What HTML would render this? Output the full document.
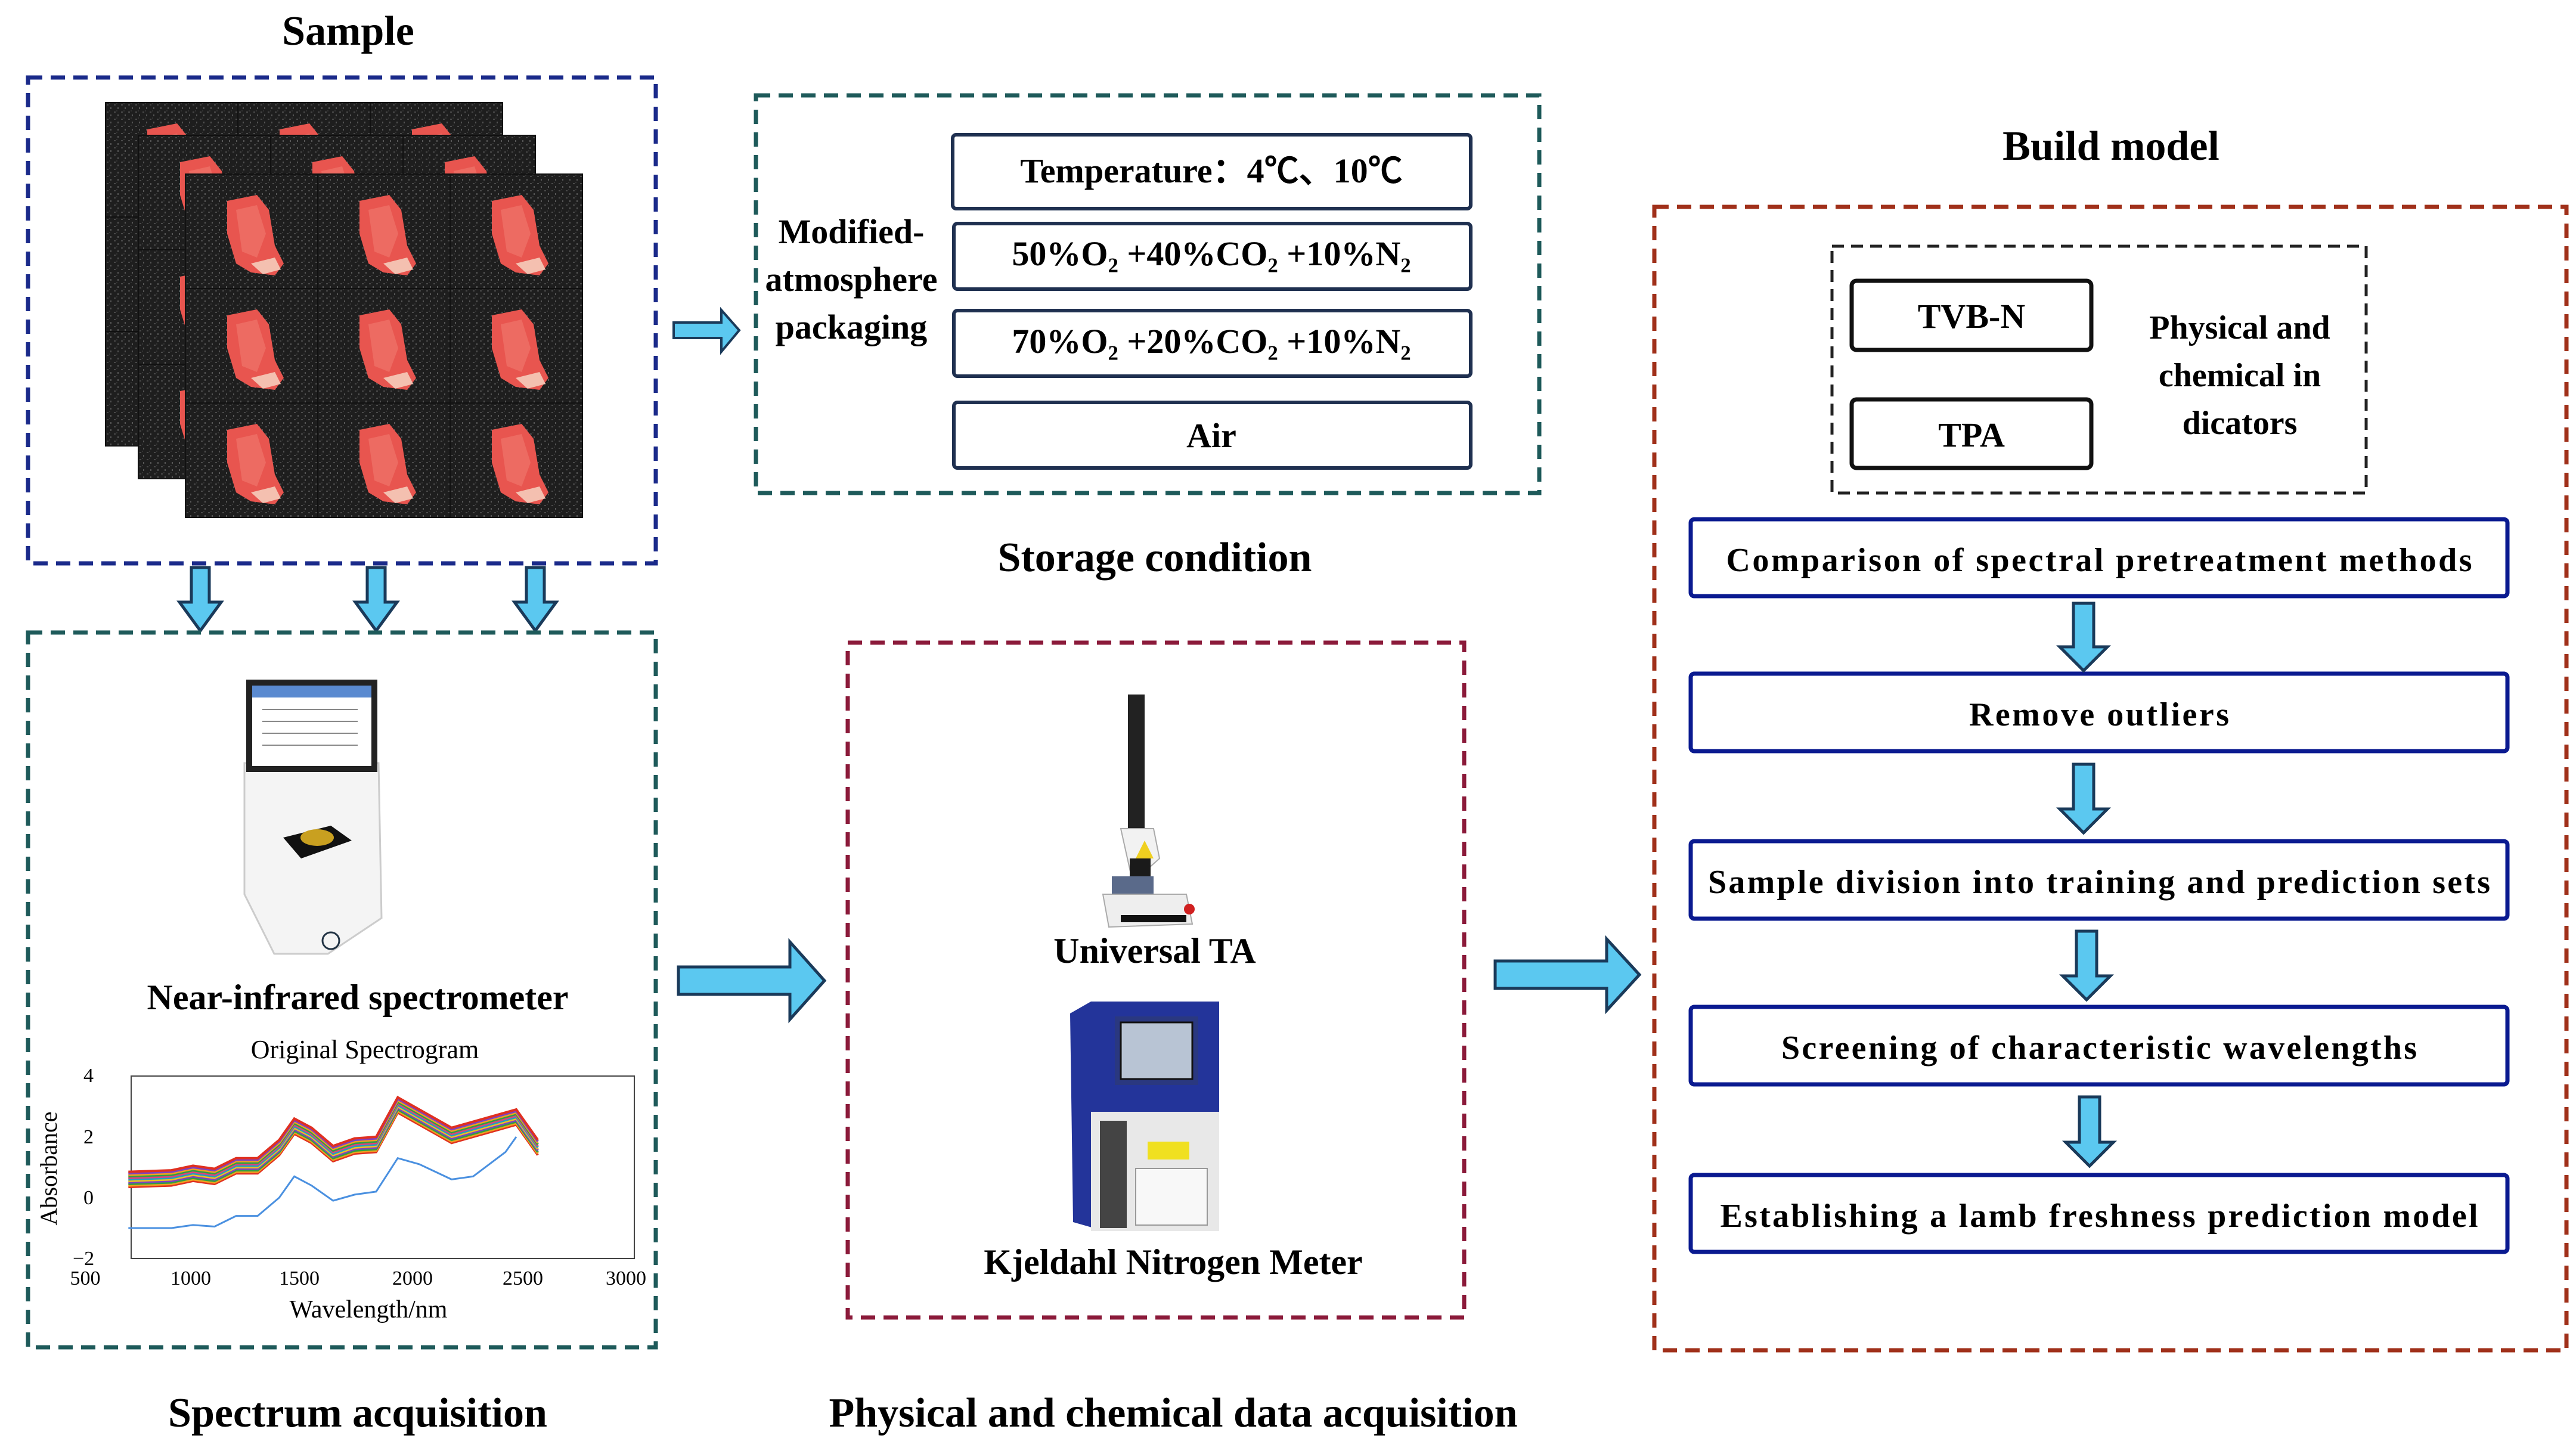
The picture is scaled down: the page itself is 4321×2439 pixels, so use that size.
<!DOCTYPE html>
<html><head><meta charset="utf-8"><style>
html,body{margin:0;padding:0;background:#fff}
svg{display:block}
text{font-family:"Liberation Serif",serif;font-weight:bold;fill:#000}
</style></head><body>
<svg width="4321" height="2439" viewBox="0 0 4321 2439" xmlns="http://www.w3.org/2000/svg">
<defs>
<pattern id="noise" width="12" height="12" patternUnits="userSpaceOnUse">
<rect width="12" height="12" fill="#1e1e1e"/><rect x="2" y="3" width="3" height="2" fill="#4a4a4a"/><rect x="8" y="8" width="2" height="3" fill="#555"/><rect x="6" y="1" width="2" height="2" fill="#333"/>
</pattern>
<g id="tile">
<rect width="222" height="192" fill="url(#noise)" stroke="#111" stroke-width="2"/>
<path d="M70 45 L120 35 L140 60 L150 120 L165 150 L150 170 L110 165 L85 150 L70 100 Z" fill="#e8554f"/>
<path d="M85 60 L120 52 L135 100 L120 140 L95 130 Z" fill="#f07a70" opacity="0.6"/>
<path d="M110 150 L150 140 L160 160 L130 168 Z" fill="#f4c0b0"/>
</g>
<g id="grid">
<use href="#tile" x="0" y="0"/><use href="#tile" x="222" y="0"/><use href="#tile" x="444" y="0"/>
<use href="#tile" x="0" y="192"/><use href="#tile" x="222" y="192"/><use href="#tile" x="444" y="192"/>
<use href="#tile" x="0" y="384"/><use href="#tile" x="222" y="384"/><use href="#tile" x="444" y="384"/>
</g>
<polyline id="band" vector-effect="non-scaling-stroke" fill="none" points="700,0.35 900,0.4 1000,0.55 1100,0.45 1200,0.8 1300,0.8 1400,1.4 1470,2.1 1550,1.8 1650,1.2 1750,1.45 1850,1.5 1950,2.8 2050,2.4 2200,1.8 2350,2.1 2500,2.4 2600,1.4"/>
</defs>

<text x="584" y="75" font-size="70" text-anchor="middle">Sample</text>
<text x="1937" y="958" font-size="70" text-anchor="middle">Storage condition</text>
<text x="3541" y="268" font-size="70" text-anchor="middle">Build model</text>
<text x="600" y="2393" font-size="70" text-anchor="middle">Spectrum acquisition</text>
<text x="1968" y="2393" font-size="70" text-anchor="middle">Physical and chemical data acquisition</text>

<rect x="47" y="130" width="1053" height="815" fill="none" stroke="#1a2a8a" stroke-width="7" stroke-dasharray="24,14"/>
<use href="#grid" x="177" y="172"/>
<use href="#grid" x="232" y="227"/>
<use href="#grid" x="311" y="292"/>

<g fill="#5bc8f0" stroke="#1a3a5a" stroke-width="5">
<polygon points="321,952 351,952 351,1010 371,1010 336,1058 301,1010 321,1010"/>
<polygon points="616,952 646,952 646,1010 666,1010 631,1058 596,1010 616,1010"/>
<polygon points="883,952 913,952 913,1010 933,1010 898,1058 863,1010 883,1010"/>
</g>

<rect x="1268" y="160" width="1314" height="667" fill="none" stroke="#1e5a5a" stroke-width="7" stroke-dasharray="24,14"/>
<g fill="#fff" stroke="#1f3050" stroke-width="6">
<rect x="1598" y="226" width="869" height="124" rx="6"/>
<rect x="1600" y="375" width="867" height="110" rx="6"/>
<rect x="1600" y="521" width="867" height="110" rx="6"/>
<rect x="1600" y="675" width="867" height="110" rx="6"/>
</g>
<text x="2032" y="306" font-size="58" text-anchor="middle">Temperature：4℃、10℃</text>
<text x="2032" y="445" font-size="58" text-anchor="middle">50%O₂ +40%CO₂ +10%N₂</text>
<text x="2032" y="592" font-size="58" text-anchor="middle">70%O₂ +20%CO₂ +10%N₂</text>
<text x="2032" y="750" font-size="58" text-anchor="middle">Air</text>
<text x="1428" y="408" font-size="58" text-anchor="middle">Modified-</text>
<text x="1428" y="488" font-size="58" text-anchor="middle">atmosphere</text>
<text x="1428" y="568" font-size="58" text-anchor="middle">packaging</text>
<polygon points="1130,541 1210,541 1210,520 1240,554 1210,590 1210,567 1130,567" fill="#5bc8f0" stroke="#1a3a5a" stroke-width="4"/>

<rect x="47" y="1061" width="1053" height="1199" fill="none" stroke="#1e5a5a" stroke-width="7" stroke-dasharray="24,14"/>
<g>
<polygon points="410,1280 635,1280 640,1540 550,1600 460,1600 410,1500" fill="#f4f4f4" stroke="#ccc" stroke-width="3"/>
<rect x="413" y="1140" width="220" height="155" fill="#222"/>
<rect x="423" y="1150" width="200" height="135" fill="#fff"/>
<rect x="423" y="1150" width="200" height="20" fill="#5a8ad0"/>
<g stroke="#888" stroke-width="2"><line x1="440" y1="1190" x2="600" y2="1190"/><line x1="440" y1="1210" x2="600" y2="1210"/><line x1="440" y1="1230" x2="600" y2="1230"/><line x1="440" y1="1250" x2="600" y2="1250"/></g>
<polygon points="475,1405 555,1385 590,1410 505,1440" fill="#111"/>
<ellipse cx="532" cy="1405" rx="28" ry="14" fill="#c9a020"/>
<circle cx="555" cy="1578" r="14" fill="none" stroke="#234" stroke-width="3"/>
</g>
<text x="600" y="1693" font-size="60" text-anchor="middle">Near-infrared spectrometer</text>
<text x="612" y="1775" font-size="44" style="font-weight:normal" text-anchor="middle">Original Spectrogram</text>
<rect x="220" y="1805" width="844" height="306" fill="#fff" stroke="#444" stroke-width="2"/>
<g>
<text x="140" y="1815" style="font-weight:normal" font-size="34">4</text>
<text x="140" y="1918" style="font-weight:normal" font-size="34">2</text>
<text x="140" y="2020" style="font-weight:normal" font-size="34">0</text>
<text x="122" y="2122" style="font-weight:normal" font-size="34">−2</text>
<text x="143" y="2155" style="font-weight:normal" font-size="34" text-anchor="middle">500</text>
<text x="320" y="2155" style="font-weight:normal" font-size="34" text-anchor="middle">1000</text>
<text x="502" y="2155" style="font-weight:normal" font-size="34" text-anchor="middle">1500</text>
<text x="692" y="2155" style="font-weight:normal" font-size="34" text-anchor="middle">2000</text>
<text x="877" y="2155" style="font-weight:normal" font-size="34" text-anchor="middle">2500</text>
<text x="1050" y="2155" style="font-weight:normal" font-size="34" text-anchor="middle">3000</text>
<text x="618" y="2210" style="font-weight:normal" font-size="42" text-anchor="middle">Wavelength/nm</text>
<text transform="translate(95,1960) rotate(-90)" style="font-weight:normal" font-size="40" text-anchor="middle">Absorbance</text>
</g>
<g transform="matrix(0.3615 0 0 -51 -37.75 2009)" fill="none" stroke-width="4">
<use href="#band" stroke="#e03020"/>
<use href="#band" transform="translate(0,0.05)" stroke="#f0a020"/>
<use href="#band" transform="translate(0,0.10)" stroke="#30a040"/>
<use href="#band" transform="translate(0,0.15)" stroke="#8040c0"/>
<use href="#band" transform="translate(0,0.20)" stroke="#f0c020"/>
<use href="#band" transform="translate(0,0.25)" stroke="#20a0c0"/>
<use href="#band" transform="translate(0,0.30)" stroke="#e04080"/>
<use href="#band" transform="translate(0,0.35)" stroke="#30a040"/>
<use href="#band" transform="translate(0,0.40)" stroke="#f0a020"/>
<use href="#band" transform="translate(0,0.45)" stroke="#8040c0"/>
<use href="#band" transform="translate(0,0.50)" stroke="#e03020"/>
<polyline vector-effect="non-scaling-stroke" stroke="#4a90e0" stroke-width="3" points="700,-1.0 900,-1.0 1000,-0.9 1100,-0.95 1200,-0.6 1300,-0.6 1400,0 1470,0.7 1550,0.4 1650,-0.1 1750,0.1 1850,0.2 1950,1.3 2050,1.1 2200,0.6 2300,0.7 2450,1.5 2500,2.0"/>
</g>

<polygon points="1138,1622 1325,1622 1325,1580 1383,1645 1325,1710 1325,1668 1138,1668" fill="#5bc8f0" stroke="#1a3a5a" stroke-width="5"/>
<polygon points="2508,1612 2695,1612 2695,1575 2750,1635 2695,1695 2695,1658 2508,1658" fill="#5bc8f0" stroke="#1a3a5a" stroke-width="5"/>

<rect x="1422" y="1078" width="1034" height="1132" fill="none" stroke="#8b1a3a" stroke-width="7" stroke-dasharray="24,14"/>
<g>
<rect x="1892" y="1165" width="28" height="230" fill="#222"/>
<polygon points="1880,1390 1935,1390 1945,1440 1900,1480" fill="#f2f2f2" stroke="#aaa" stroke-width="2"/>
<rect x="1895" y="1440" width="35" height="90" fill="#1a1a1a"/>
<polygon points="1920,1410 1935,1440 1905,1440" fill="#f0d020"/>
<rect x="1865" y="1470" width="70" height="30" fill="#5a6a8a"/>
<polygon points="1850,1500 1990,1500 2000,1550 1860,1555" fill="#eee" stroke="#aaa" stroke-width="2"/>
<rect x="1880" y="1535" width="110" height="12" fill="#111"/>
<circle cx="1995" cy="1525" r="9" fill="#d02020"/>
</g>
<text x="1937" y="1615" font-size="60" text-anchor="middle">Universal TA</text>
<g>
<polygon points="1795,1700 1830,1680 1835,2060 1800,2050" fill="#23349a"/>
<rect x="1830" y="1680" width="215" height="185" fill="#23349a"/>
<rect x="1870" y="1705" width="140" height="115" fill="#2a3880"/>
<rect x="1880" y="1715" width="120" height="95" fill="#b8c4d4" stroke="#111" stroke-width="3"/>
<rect x="1830" y="1865" width="215" height="200" fill="#e8e8e8"/>
<rect x="1845" y="1880" width="45" height="180" fill="#444"/>
<rect x="1925" y="1915" width="70" height="30" fill="#f0e020"/>
<rect x="1905" y="1960" width="120" height="95" fill="#f8f8f8" stroke="#999" stroke-width="2"/>
</g>
<text x="1968" y="2137" font-size="60" text-anchor="middle">Kjeldahl Nitrogen Meter</text>

<rect x="2775" y="347" width="1530" height="1918" fill="none" stroke="#a0301a" stroke-width="7" stroke-dasharray="24,14"/>
<rect x="3073" y="413" width="896" height="414" fill="none" stroke="#222" stroke-width="5" stroke-dasharray="20,12"/>
<rect x="3106" y="471" width="402" height="116" rx="8" fill="#fff" stroke="#111" stroke-width="7"/>
<rect x="3106" y="670" width="402" height="115" rx="8" fill="#fff" stroke="#111" stroke-width="7"/>
<text x="3307" y="550" font-size="58" text-anchor="middle">TVB-N</text>
<text x="3307" y="749" font-size="58" text-anchor="middle">TPA</text>
<text x="3757" y="568" font-size="56" text-anchor="middle">Physical and</text>
<text x="3757" y="648" font-size="56" text-anchor="middle">chemical in</text>
<text x="3757" y="728" font-size="56" text-anchor="middle">dicators</text>

<g fill="#fff" stroke="#0a1a90" stroke-width="7">
<rect x="2836" y="871" width="1370" height="129" rx="6"/>
<rect x="2836" y="1130" width="1370" height="130" rx="6"/>
<rect x="2836" y="1411" width="1370" height="130" rx="6"/>
<rect x="2836" y="1689" width="1370" height="130" rx="6"/>
<rect x="2836" y="1971" width="1370" height="129" rx="6"/>
</g>
<text x="3521" y="958" font-size="56" text-anchor="middle" textLength="1251" lengthAdjust="spacing">Comparison of spectral pretreatment methods</text>
<text x="3521" y="1217" font-size="56" text-anchor="middle" textLength="436" lengthAdjust="spacing">Remove outliers</text>
<text x="3521" y="1498" font-size="56" text-anchor="middle" textLength="1312" lengthAdjust="spacing">Sample division into training and prediction sets</text>
<text x="3521" y="1776" font-size="56" text-anchor="middle" textLength="1066" lengthAdjust="spacing">Screening of characteristic wavelengths</text>
<text x="3521" y="2058" font-size="56" text-anchor="middle" textLength="1271" lengthAdjust="spacing">Establishing a lamb freshness prediction model</text>

<g fill="#5bc8f0" stroke="#1a3a5a" stroke-width="5">
<polygon points="3478,1012 3512,1012 3512,1085 3535,1085 3495,1125 3455,1085 3478,1085"/>
<polygon points="3478,1282 3512,1282 3512,1357 3535,1357 3495,1397 3455,1357 3478,1357"/>
<polygon points="3483,1562 3517,1562 3517,1637 3540,1637 3500,1677 3460,1637 3483,1637"/>
<polygon points="3488,1840 3522,1840 3522,1916 3545,1916 3505,1956 3465,1916 3488,1916"/>
</g>
</svg>
</body></html>
